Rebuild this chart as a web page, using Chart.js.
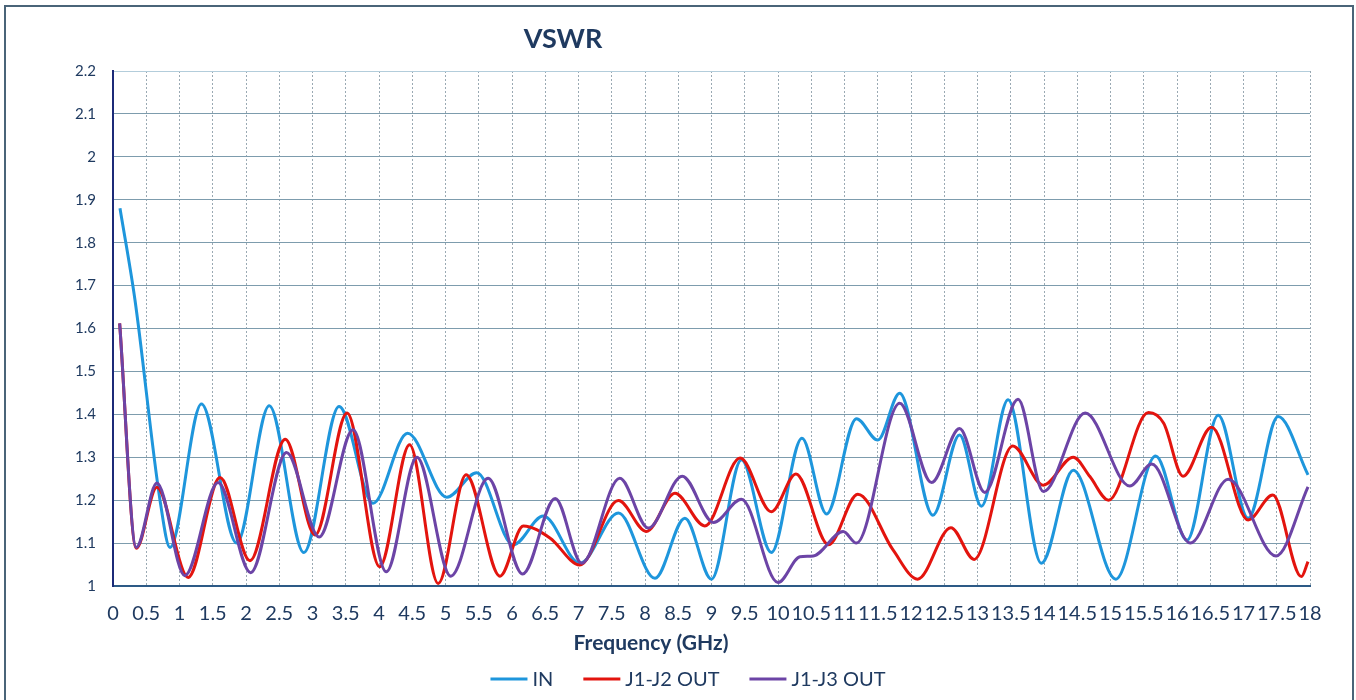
<!DOCTYPE html>
<html lang="en">
<head>
  <meta charset="UTF-8">
  <title>VSWR</title>
  <script src="https://cdn.jsdelivr.net/npm/chart.js"></script>
  <style>
    body {
      margin: 0;
      background: #fff;
    }

    .wrap {
      position: relative;
      width: 1356px;
      height: 700px;
    }

    /* thin frame round the chart, like the scanned original */
    .frame {
      position: absolute;
      left: 4px;
      top: 5px;
      width: 1346px;
      height: 700px;
      border: 2px solid #4a6478;
      border-bottom: none;
      pointer-events: none;
    }
  </style>
</head>
<body>

  <div class="wrap">
    <canvas id="vswrChart" width="1356" height="700"></canvas>
    <div class="frame"></div>
  </div>

  <script>
    const chartTitle = "VSWR";
    const xTitle = "Frequency (GHz)";
    const seriesNames = ["IN", "J1-J2 OUT", "J1-J3 OUT"];

    // IN
    const inFreq = [0.105, 0.33, 0.707, 0.857, 1.33, 1.86, 2.35, 2.87, 3.40, 3.91, 4.43, 5.02, 5.47, 6.02, 6.47, 7.02, 7.6, 8.15, 8.6, 9.0,
                    9.45, 9.9, 10.36, 10.73, 11.18, 11.5, 11.83, 12.33, 12.73, 13.06, 13.46, 13.96, 14.44, 15.08, 15.68, 16.15, 16.62, 17.07, 17.52, 17.97];
    const inVswr = [1.88, 1.667, 1.20, 1.09, 1.424, 1.10, 1.42, 1.078, 1.418, 1.193, 1.356, 1.207, 1.264, 1.096, 1.163, 1.053, 1.17, 1.018, 1.158, 1.016,
                    1.294, 1.078, 1.344, 1.168, 1.39, 1.34, 1.449, 1.165, 1.352, 1.186, 1.434, 1.053, 1.27, 1.016, 1.303, 1.107, 1.398, 1.158, 1.395, 1.259];

    // J1-J2 OUT
    const j2Freq = [0.1, 0.35, 0.66, 1.13, 1.61, 2.06, 2.59, 3.04, 3.52, 4.01, 4.46, 4.89, 5.31, 5.82, 6.17, 6.57, 7.02, 7.6, 8.02, 8.45, 8.9, 9.43,
                    9.9, 10.27, 10.76, 11.2, 11.73, 12.1, 12.6, 12.95, 13.53, 13.99, 14.44, 14.69, 14.97, 15.57, 15.8, 16.09, 16.52, 17.07, 17.44, 17.87, 17.97];
    const j2Vswr = [1.612, 1.088, 1.23, 1.02, 1.253, 1.059, 1.342, 1.119, 1.403, 1.045, 1.329, 1.006, 1.259, 1.023, 1.14, 1.112, 1.049, 1.199, 1.127, 1.216, 1.14, 1.298,
                    1.173, 1.261, 1.096, 1.214, 1.084, 1.016, 1.136, 1.062, 1.326, 1.235, 1.30, 1.255, 1.20, 1.404, 1.379, 1.256, 1.37, 1.154, 1.212, 1.022, 1.057];

    // J1-J3 OUT
    const j3Freq = [0.1, 0.35, 0.66, 1.08, 1.58, 2.07, 2.61, 3.10, 3.61, 4.11, 4.57, 5.08, 5.64, 6.16, 6.65, 7.05, 7.62, 8.05, 8.56, 9.03,
                    9.45, 10.0, 10.33, 10.53, 10.98, 11.18, 11.83, 12.31, 12.73, 13.11, 13.61, 13.99, 14.62, 15.29, 15.62, 16.2, 16.77, 17.49, 17.97];
    const j3Vswr = [1.612, 1.09, 1.24, 1.024, 1.241, 1.031, 1.311, 1.114, 1.364, 1.033, 1.30, 1.023, 1.251, 1.028, 1.204, 1.053, 1.251, 1.135, 1.256, 1.148,
                    1.202, 1.008, 1.068, 1.07, 1.127, 1.10, 1.426, 1.241, 1.367, 1.218, 1.435, 1.22, 1.403, 1.233, 1.284, 1.10, 1.249, 1.07, 1.231];

    const xMin = 0, xMax = 18, xStep = 0.5;
    const yMin = 1, yMax = 2.2, yStep = 0.1;

    const navy = "#1f3a60";
    const toPoints = (xs, ys) => xs.map((x, i) => ({ x: x, y: ys[i] }));
    const fmt = v => Number(v.toFixed(1)).toString();

    // title, axis title and legend are drawn here so they sit where the original has them
    const decor = {
      id: "decor",
      afterDraw(chart) {
        const ctx = chart.ctx;
        ctx.save();
        ctx.fillStyle = navy;
        ctx.textAlign = "center";
        ctx.textBaseline = "middle";
        ctx.font = "bold 27px Lato";
        ctx.fillText(chartTitle, 563, 39);
        ctx.font = "bold 21px Lato";
        ctx.fillText(xTitle, 651, 643);

        // legend
        ctx.font = "20px Lato";
        const lineLen = 37, gap = 5, spacing = 30;
        const sets = chart.data.datasets;
        let total = 0;
        sets.forEach((ds, i) => {
          total += lineLen + gap + ctx.measureText(ds.label).width;
          if (i < sets.length - 1) total += spacing;
        });
        let x = 688 - total / 2;
        const y = 679;
        ctx.textAlign = "left";
        sets.forEach(ds => {
          ctx.strokeStyle = ds.borderColor;
          ctx.lineWidth = 3;
          ctx.beginPath();
          ctx.moveTo(x, y);
          ctx.lineTo(x + lineLen, y);
          ctx.stroke();
          x += lineLen + gap;
          ctx.fillStyle = navy;
          ctx.fillText(ds.label, x, y + 1);
          x += ctx.measureText(ds.label).width + spacing;
        });
        ctx.restore();
      }
    };

    const ctx = document.getElementById("vswrChart").getContext("2d");
    new Chart(ctx, {
      type: "line",
      data: {
        datasets: [
          {
            label: seriesNames[0],
            data: toPoints(inFreq, inVswr),
            borderColor: "#1e96dc",
            order: 2
          },
          {
            label: seriesNames[1],
            data: toPoints(j2Freq, j2Vswr),
            borderColor: "#e3140e",
            order: 1
          },
          {
            label: seriesNames[2],
            data: toPoints(j3Freq, j3Vswr),
            borderColor: "#6c44a6",
            order: 0
          }
        ]
      },
      options: {
        responsive: false,
        animation: false,
        elements: {
          line: { borderWidth: 3, cubicInterpolationMode: "monotone", fill: false },
          point: { radius: 0 }
        },
        layout: { padding: { left: 0, top: 71, right: 46, bottom: 74 } },
        plugins: {
          legend: { display: false },
          title: { display: false },
          tooltip: { enabled: false }
        },
        scales: {
          x: {
            type: "linear",
            min: xMin,
            max: xMax,
            afterFit: s => { s.height = 40; s.paddingLeft = 0; s.paddingRight = 0; },
            grid: { color: "#9aa9b3", lineWidth: 1, drawTicks: false },
            border: { color: "#2d5a86", width: 2, dash: [2, 2] },
            ticks: {
              stepSize: xStep,
              maxTicksLimit: 100,
              autoSkip: false,
              maxRotation: 0,
              minRotation: 0,
              padding: 16,
              color: navy,
              font: { family: "Lato", size: 20 },
              callback: fmt
            }
          },
          y: {
            min: yMin,
            max: yMax,
            afterFit: s => { s.width = 113; s.paddingTop = 0; s.paddingBottom = 0; },
            grid: {
              color: c => (c.tick && Math.abs(c.tick.value - yMax) < 1e-6) ? "#b3cddb" : "#7d9cad",
              lineWidth: 1,
              drawTicks: false
            },
            border: { color: "#1c2a78", width: 2 },
            ticks: {
              stepSize: yStep,
              maxTicksLimit: 100,
              padding: 17,
              color: navy,
              font: { family: "Lato", size: 15 },
              callback: fmt
            }
          }
        }
      },
      plugins: [decor]
    });
  </script>

</body>
</html>
